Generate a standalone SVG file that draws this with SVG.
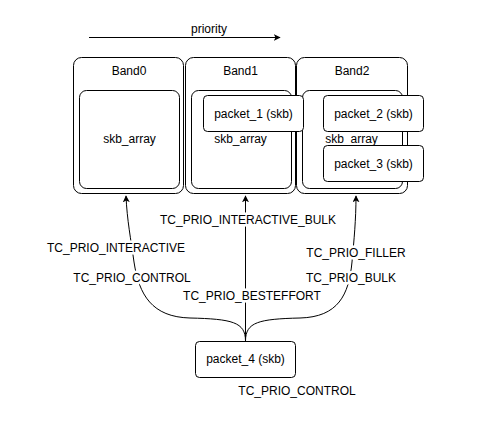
<svg xmlns="http://www.w3.org/2000/svg" width="479" height="426" viewBox="0 0 479 426">
<style>
  text { font-family: "Liberation Sans", Arial, sans-serif; font-size: 12px; fill: #000; text-anchor: middle; }
  .box { fill: #fff; stroke: #000; stroke-width: 1; }
  .edge { fill: none; stroke: #000; stroke-width: 1; }
  .lbl { paint-order: stroke; stroke: #fff; stroke-width: 5px; stroke-linejoin: round; }
</style>
<defs>
  <marker id="arr" viewBox="0 0 10 10" refX="9" refY="5" markerWidth="7" markerHeight="7" markerUnits="userSpaceOnUse" orient="auto">
    <path d="M0,0 L10,5 L0,10 L2.5,5 Z" fill="#000"/>
  </marker>
</defs>
<rect width="479" height="426" fill="#fff"/>

<g id="priority">
  <text x="209" y="33">priority</text>
  <path class="edge" d="M89,37.5 L280,37.5" marker-end="url(#arr)"/>
</g>

<g id="band0">
  <rect class="box" x="73.5" y="57.5" width="110" height="136" rx="8"/>
  <text x="129" y="75">Band0</text>
</g>
<g id="band1">
  <rect class="box" x="185.5" y="57.5" width="110" height="136" rx="8"/>
  <text x="240.5" y="75">Band1</text>
</g>
<g id="band2">
  <rect class="box" x="296.5" y="57.5" width="111" height="136" rx="8"/>
  <text x="352" y="75">Band2</text>
</g>

<g id="skb_array0">
  <rect class="box" x="79.5" y="90.5" width="100" height="98" rx="7"/>
  <text x="129.5" y="143">skb_array</text>
</g>
<g id="skb_array1">
  <rect class="box" x="191.5" y="90.5" width="100" height="98" rx="7"/>
  <text x="240.5" y="143">skb_array</text>
</g>
<g id="skb_array2">
  <rect class="box" x="302.5" y="90.5" width="100" height="98" rx="7"/>
  <text x="351.5" y="143">skb_array</text>
</g>

<g id="packet_1">
  <rect class="box" x="203.5" y="95.5" width="100" height="36" rx="4"/>
  <text x="253.5" y="118">packet_1 (skb)</text>
</g>
<g id="packet_2">
  <rect class="box" x="323.5" y="95.5" width="100" height="36" rx="4"/>
  <text x="373.5" y="118">packet_2 (skb)</text>
</g>
<g id="packet_3">
  <rect class="box" x="323.5" y="145.5" width="100" height="36" rx="4"/>
  <text x="373.5" y="168">packet_3 (skb)</text>
</g>

<g id="connectors">
  <path class="edge" d="M245.5,341 L245.5,196" marker-end="url(#arr)"/>
  <path class="edge" d="M245.5,341 C245.5,322 232,319 190,318 C152,317 139,295 134,262 C131,240 127,220 126,196" marker-end="url(#arr)"/>
  <path class="edge" d="M245.5,341 C245.5,322 259,319 300,318 C338,317 349,295 352,262 C354,240 356,220 356,196" marker-end="url(#arr)"/>
  <text class="lbl" x="248" y="224">TC_PRIO_INTERACTIVE_BULK</text>
  <text class="lbl" x="252" y="300">TC_PRIO_BESTEFFORT</text>
  <text class="lbl" x="116" y="252">TC_PRIO_INTERACTIVE</text>
  <text class="lbl" x="132" y="282">TC_PRIO_CONTROL</text>
  <text class="lbl" x="356" y="257">TC_PRIO_FILLER</text>
  <text class="lbl" x="351" y="282">TC_PRIO_BULK</text>
</g>

<g id="packet_4">
  <rect class="box" x="195.5" y="341.5" width="100" height="36" rx="4"/>
  <text x="245.5" y="363">packet_4 (skb)</text>
  <text x="297" y="395">TC_PRIO_CONTROL</text>
</g>
</svg>
